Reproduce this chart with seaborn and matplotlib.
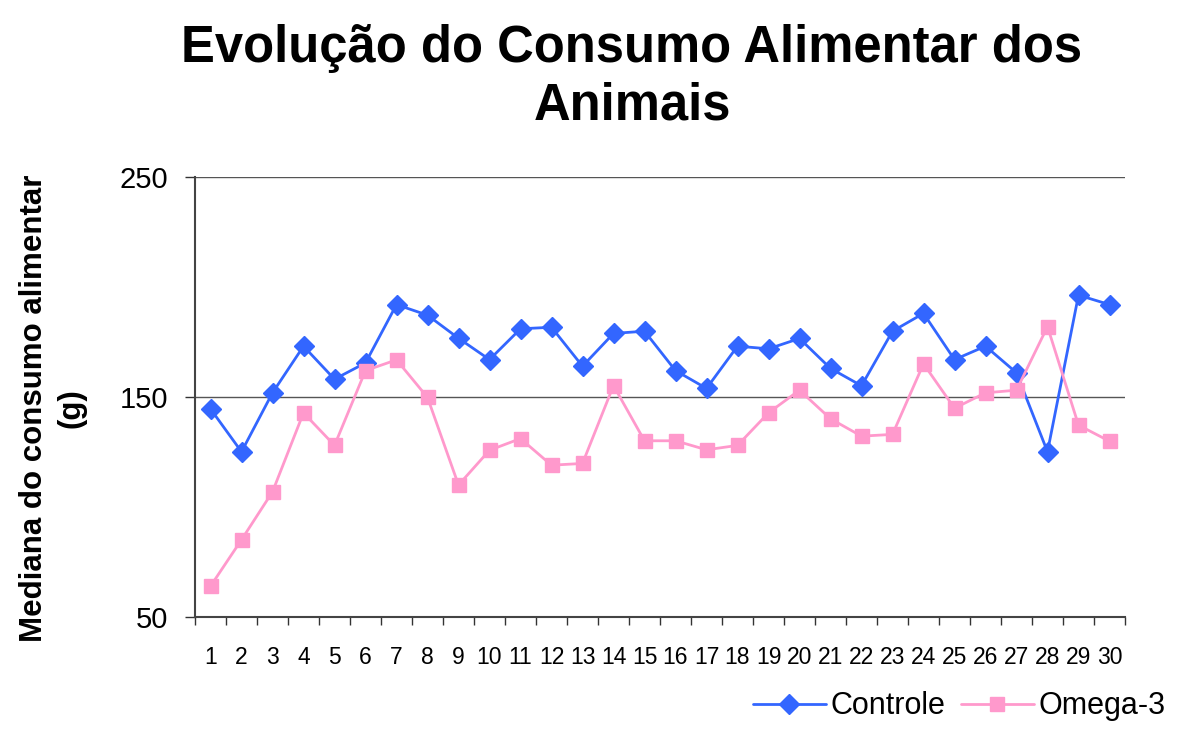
import matplotlib
matplotlib.use("Agg")
import matplotlib.pyplot as plt
import seaborn as sns
import pandas as pd
import numpy as np
from matplotlib.ticker import FixedLocator

days = list(range(1, 31))
controle = [144.6, 125.1, 151.9, 173.1, 158.1, 165.5, 192.0, 187.2, 176.7, 167.0,
            181.0, 181.7, 164.0, 178.9, 179.9, 162.0, 153.9, 173.1, 171.9, 176.6,
            163.0, 155.1, 179.9, 188.0, 167.0, 173.1, 161.0, 125.1, 196.3, 192.0]
omega3 = [64.0, 85.1, 106.9, 142.8, 128.0, 162.0, 166.9, 149.8, 110.0, 125.8,
          131.1, 119.0, 119.8, 155.2, 130.1, 130.1, 126.0, 128.0, 142.8, 153.1,
          140.1, 132.2, 133.0, 165.1, 144.9, 151.9, 153.1, 182.0, 137.2, 129.9]
series_names = ["Controle", "Omega-3"]
yticks = [50, 150, 250]

df = pd.DataFrame({
    "Dia": days * 2,
    "Valor": controle + omega3,
    "Grupo": ["Controle"] * 30 + ["Omega-3"] * 30,
})

sns.set_style("white")
plt.rcParams['font.family'] = ['Liberation Sans', 'DejaVu Sans']
plt.rcParams['text.color'] = 'black'
plt.rcParams['xtick.color'] = 'black'
plt.rcParams['ytick.color'] = 'black'
plt.rcParams['axes.labelcolor'] = 'black'

W, H = 1177, 731
fig = plt.figure(figsize=(W / 100, H / 100), dpi=100)
ax = fig.add_axes([195 / W, 1 - 617 / H, (1125 - 195) / W, (617 - 177) / H])

palette = {"Controle": "#3366FF", "Omega-3": "#FF99CC"}
markers = {"Controle": "D", "Omega-3": "s"}
sns.lineplot(data=df, x="Dia", y="Valor", hue="Grupo", style="Grupo",
             palette=palette, markers=markers, dashes=False, ax=ax,
             linewidth=2, markersize=10, markeredgewidth=1,
             hue_order=series_names, style_order=series_names)
for line in ax.lines:
    line.set_markeredgecolor(line.get_color())
    if line.get_marker() == 's':
        line.set_markersize(10.5)

ax.set_xlim(0.5, 30.5)
ax.set_ylim(50, 250)
ax.set_yticks(yticks)
ax.set_yticklabels([str(v) for v in yticks], fontsize=21)
ax.yaxis.grid(True, color="#555555", linewidth=1)
ax.set_axisbelow(True)

ax.set_xticks(days)
ax.set_xticklabels([str(d) for d in days], fontsize=16.5)
ax.xaxis.set_minor_locator(FixedLocator(np.arange(0.5, 31, 1)))
ax.tick_params(axis='x', which='major', length=0, pad=21)
ax.tick_params(axis='x', which='minor', length=6, color="#333333", width=1, direction='out')
ax.tick_params(axis='y', which='major', length=7, color="#333333", width=1, direction='out', pad=12)
ax.tick_params(bottom=True, left=True, which='both')

for s in ["top", "right"]:
    ax.spines[s].set_visible(False)
for s in ["left", "bottom"]:
    ax.spines[s].set_color("#444444")
    ax.spines[s].set_linewidth(1.5)

ax.set_xlabel("")
ax.set_ylabel("Mediana do consumo alimentar\n(g)", fontsize=22.5, fontweight="bold",
              linespacing=1.3)
ax.yaxis.set_label_coords((86 - 195) / 930, (617 - 408) / 440)

fig.text(632 / W, 1 - 62 / H, "Evolução do Consumo Alimentar dos", ha="center",
         va="baseline", fontsize=36.5, fontweight="bold")
fig.text(632 / W, 1 - 119 / H, "Animais", ha="center",
         va="baseline", fontsize=36.5, fontweight="bold")

handles, labels = ax.get_legend_handles_labels()
ax.legend(handles=handles, labels=labels, loc="lower right",
          bbox_to_anchor=(1.006, -0.012), bbox_transform=fig.transFigure,
          ncol=2, frameon=False, fontsize=22, handlelength=2.4,
          columnspacing=0.5, handletextpad=0.15, borderpad=0.1)

fig.savefig("out.png", dpi=100)
